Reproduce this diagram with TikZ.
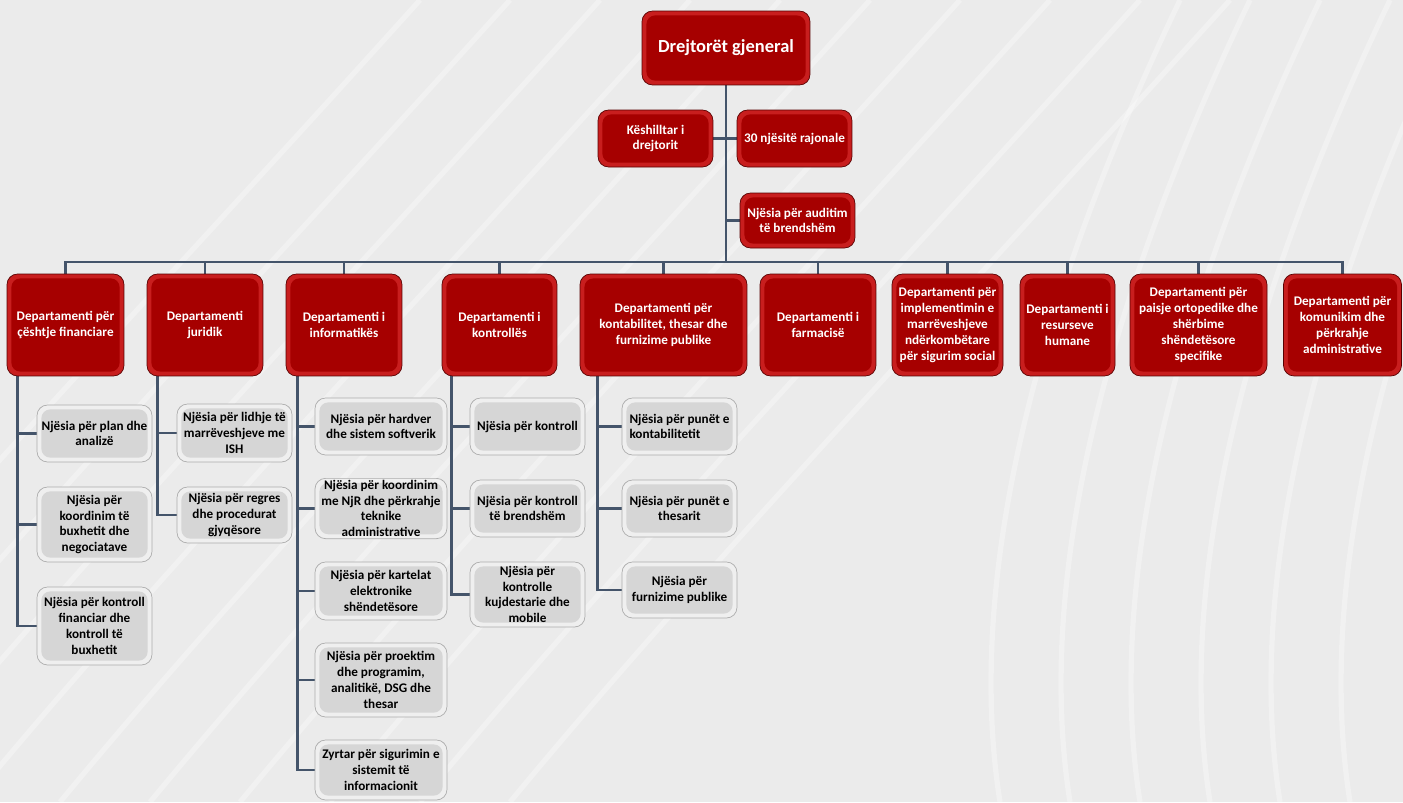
\documentclass[tikz,border=0pt]{standalone}
\usepackage{fontspec}
\setmainfont{Carlito}
\usetikzlibrary{backgrounds}

\definecolor{redcore}{HTML}{A60000}
\definecolor{redrim}{HTML}{C81E1E}
\definecolor{graycore}{HTML}{D6D6D6}
\definecolor{grayrim}{HTML}{EFEFEF}
\definecolor{linkcol}{HTML}{44546A}
\definecolor{bgcol}{HTML}{EBEBEB}

\tikzset{
  box/.style={rounded corners=6pt, inner sep=1pt, align=center,
    font=\bfseries\fontsize{7.5}{9}\selectfont},
  redbox/.style={box, fill=redrim, draw=red!35!black, text=white,
    path picture={\fill[redcore,rounded corners=5pt]
      ([shift={(2.5pt,2.5pt)}]path picture bounding box.south west) rectangle
      ([shift={(-2.5pt,-2.5pt)}]path picture bounding box.north east);}},
  graybox/.style={box, fill=grayrim, draw=gray!65, text=black,
    minimum width=2.3cm,
    path picture={\fill[graycore,rounded corners=5pt]
      ([shift={(2.5pt,2.5pt)}]path picture bounding box.south west) rectangle
      ([shift={(-2.5pt,-2.5pt)}]path picture bounding box.north east);}},
  dept/.style={redbox, minimum height=2.04cm},
  link/.style={linkcol, line width=1.6pt},
}

\begin{document}
\begin{tikzpicture}[x=0.02cm,y=-0.02cm]
    \useasboundingbox (0,0) rectangle (1403,802);

    % top of the chart
    \node[redbox, minimum width=3.36cm, minimum height=1.48cm,
      font=\bfseries\fontsize{10.5}{12}\selectfont] (top) at (726,48) {Drejtorët gjeneral};
    \node[redbox, minimum width=2.3cm, minimum height=1.14cm] (adv) at (655.5,138.5) {Këshilltar i\\drejtorit};
    \node[redbox, minimum width=2.3cm, minimum height=1.14cm] (reg) at (794.5,138.5) {30 njësitë rajonale};
    \node[redbox, minimum width=2.3cm, minimum height=1.1cm] (aud) at (797.5,220.5) {Njësia për auditim\\të brendshëm};
    \coordinate (bus) at (726,262);

    % departments
    \node[dept, minimum width=2.34cm] (d1) at (65.5,325) {Departamenti për\\çështje financiare};
    \node[dept, minimum width=2.32cm] (d2) at (205,325) {Departamenti\\juridik};
    \node[dept, minimum width=2.32cm] (d3) at (344,325) {Departamenti i\\informatikës};
    \node[dept, minimum width=2.3cm] (d4) at (499.5,325) {Departamenti i\\kontrollës};
    \node[dept, minimum width=3.34cm] (d5) at (663.5,325) {Departamenti për\\kontabilitet, thesar dhe\\furnizime publike};
    \node[dept, minimum width=2.32cm] (d6) at (818,325) {Departamenti i\\farmacisë};
    \node[dept, minimum width=2.22cm] (d7) at (947.5,325) {Departamenti për\\implementimin e\\marrëveshjeve\\ndërkombëtare\\për sigurim social};
    \node[dept, minimum width=1.9cm] (d8) at (1067.5,325) {Departamenti i\\resurseve\\humane};
    \node[dept, minimum width=2.74cm] (d9) at (1198.5,325) {Departamenti për\\paisje ortopedike dhe\\shërbime\\shëndetësore\\specifike};
    \node[dept, minimum width=2.36cm] (d10) at (1342.5,325) {Departamenti për\\komunikim dhe\\përkrahje\\administrative};

    % units
    \node[graybox, minimum height=1.14cm] (s11) at (94.5,433.5) {Njësia për plan dhe\\analizë};
    \node[graybox, minimum height=1.5cm] (s12) at (94.5,524.5) {Njësia për\\koordinim të\\buxhetit dhe\\negociatave};
    \node[graybox, minimum height=1.56cm] (s13) at (94.5,626) {Njësia për kontroll\\financiar dhe\\kontroll të\\buxhetit};
    \node[graybox, minimum height=1.16cm] (s21) at (234.5,433) {Njësia për lidhje të\\marrëveshjeve me\\ISH};
    \node[graybox, minimum height=1.12cm] (s22) at (234.5,515) {Njësia për regres\\dhe procedurat\\gjyqësore};
    \node[graybox, minimum width=2.64cm, minimum height=1.14cm] (s31) at (381,426.5) {Njësia për hardver\\dhe sistem softverik};
    \node[graybox, minimum width=2.64cm, minimum height=1.14cm] (s32) at (381,508.5) {Njësia për koordinim\\me NjR dhe përkrahje\\teknike\\administrative};
    \node[graybox, minimum width=2.64cm, minimum height=1.16cm] (s33) at (381,591) {Njësia për kartelat\\elektronike\\shëndetësore};
    \node[graybox, minimum width=2.64cm, minimum height=1.48cm] (s34) at (381,680) {Njësia për proektim\\dhe programim,\\analitikë, DSG dhe\\thesar};
    \node[graybox, minimum width=2.64cm, minimum height=1.2cm] (s35) at (381,770) {Zyrtar për sigurimin e\\sistemit të\\informacionit};
    \node[graybox, minimum height=1.14cm] (s41) at (527.5,426.5) {Njësia për kontroll};
    \node[graybox, minimum height=1.14cm] (s42) at (527.5,508.5) {Njësia për kontroll\\të brendshëm};
    \node[graybox, minimum height=1.3cm] (s43) at (527.5,594.5) {Njësia për\\kontrolle\\kujdestarie dhe\\mobile};
    \node[graybox, minimum height=1.14cm, align=left] (s51) at (679.5,426.5) {Njësia për punët e\\kontabilitetit};
    \node[graybox, minimum height=1.14cm] (s52) at (679.5,508.5) {Njësia për punët e\\thesarit};
    \node[graybox, minimum height=1.12cm] (s53) at (679.5,590) {Njësia për\\furnizime publike};

    \begin{pgfonlayer}{background}
        \fill[bgcol] (0,0) rectangle (1403,802);
        \foreach \i in {0,...,9}
            \draw[white, line width=3pt, opacity=0.3] (\i*90-300,802) .. controls (\i*90-100,560) and (\i*90+150,300) .. (\i*90+420,0);
        \foreach \i in {0,...,5}
            \draw[white, line width=3pt, opacity=0.3] (1000+\i*70,802) .. controls (960+\i*70,550) and (1060+\i*70,250) .. (1180+\i*70,0);
        % connectors
        \draw[link] (top) -- (bus);
        \draw[link] (adv) -- (reg);
        \draw[link] (aud.west) -- (aud.west -| bus);
        \foreach \d in {d1,d2,d3,d4,d5,d6,d7,d8,d9,d10}
            \draw[link] (bus) -| (\d.north);
        \foreach \d/\dx/\kids in {d1/0.22cm/{s11,s12,s13}, d2/0.22cm/{s21,s22},
          d3/0.24cm/{s31,s32,s33,s34,s35}, d4/0.2cm/{s41,s42,s43}, d5/0.36cm/{s51,s52,s53}}
            \foreach \k in \kids
                \draw[link] ([xshift=\dx]\d.south west) |- (\k.west);
    \end{pgfonlayer}
\end{tikzpicture}
\end{document}
